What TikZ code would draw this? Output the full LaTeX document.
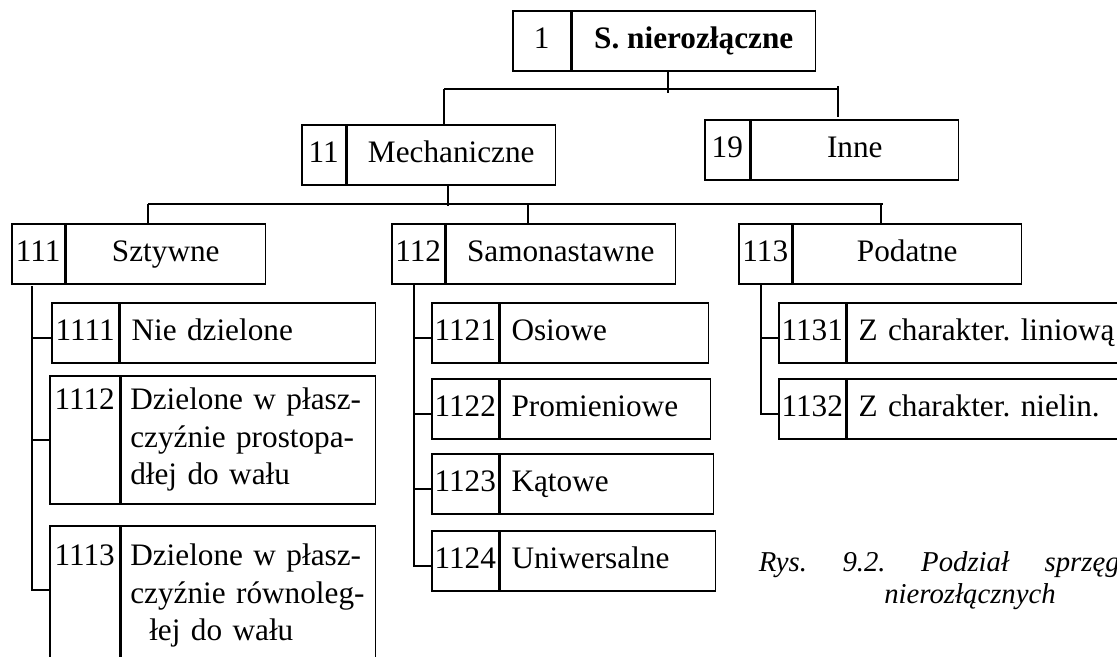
\documentclass[tikz,border=0pt]{standalone}
\usepackage{fontspec}
\setmainfont{Liberation Serif}
\usetikzlibrary{positioning}
\newcommand{\fullline}[1]{\makebox[\hsize][s]{#1}}
\frenchspacing

\begin{document}
\begin{tikzpicture}[
    x=0.4pt, y=-0.4pt, line width=0.6pt,
    every node/.style={font=\fontsize{12.5}{15}\selectfont},
    num/.style={draw, inner sep=0pt, minimum width=#1, minimum height=24pt,
                text height=8pt, text depth=1.6pt, anchor=north west},
    head/.style={draw, inner sep=0pt, minimum width=#1, minimum height=24pt,
                 text height=8pt, text depth=1.6pt},
    item/.style={draw, inner xsep=4.5pt, inner ysep=0pt, text width=#1, align=left,
                 minimum height=24pt, text height=8pt, text depth=1.6pt},
    numtop/.style n args={3}{draw, inner sep=0pt, minimum width=#1,
                 text height=#2, text depth=#3, anchor=north west},
    block/.style 2 args={draw, inner xsep=3.6pt, inner ysep=0pt, text width=#1,
                 minimum height=#2, align=left},
    captext/.style={font=\fontsize{11.5}{13}\selectfont\itshape, inner sep=0pt},
]
\useasboundingbox (0,0) rectangle (1117,656);
\clip (0,0) rectangle (1117,656);

% level 1
\node[num=23.2pt] (n1) at (512,10) {1};
\node[head=97.2pt, right=0pt of n1, font=\fontsize{12.5}{15}\selectfont\bfseries] (l1) {S. nierozłączne};

% level 2
\node[num=17.6pt] (n11) at (301,124) {11};
\node[head=83.2pt, right=0pt of n11] (l11) {Mechaniczne};
\node[num=18pt] (n19) at (704,119) {19};
\node[head=82.8pt, right=0pt of n19] (l19) {Inne};

\coordinate (b1L) at (444,89);
\coordinate (b1R) at (838,89);
\coordinate (s1) at (668,93);
\draw (l1.south -| s1) -- (s1);
\draw (b1L) -- (b1R);
\draw (b1L) -- (b1L |- l11.north);
\draw ([yshift=1.2pt]b1R) -- ([yshift=0.8pt]l19.north -| b1R);

% level 3
\node[num=21.2pt] (n111) at (11,223) {111};
\node[head=79.6pt, right=0pt of n111] (l111) {Sztywne};
\node[num=21.2pt] (n112) at (391,223) {112};
\node[head=91.6pt, right=0pt of n112] (l112) {Samonastawne};
\node[num=21.2pt] (n113) at (738,223) {113};
\node[head=91.2pt, right=0pt of n113] (l113) {Podatne};

\coordinate (s11) at (448,206);
\coordinate (b2L) at (148,204);
\coordinate (b2M) at (528,204);
\coordinate (b2T) at (881,204);
\coordinate (b2R) at (883,204);
\draw (l11.south -| s11) -- (s11);
\draw (b2L) -- (b2R);
\draw (b2L) -- (b2L |- l111.north);
\draw (b2M) -- (b2M |- l112.north);
\draw (b2T) -- (b2T |- l113.north);

% Sztywne
\node[num=26.8pt] (n1111) at (51,302) {1111};
\node[item=93pt, right=0pt of n1111] (l1111) {Nie dzielone};
\node[numtop={28pt}{13.5pt}{37.7pt}] (n1112) at (49,375) {1112};
\node[block={94.4pt}{51.2pt}, right=0pt of n1112] (l1112)
    {\fullline{Dzielone w płasz-}\\ \fullline{czyźnie prostopa-}\\ dłej do wału};
\node[numtop={28pt}{15.9pt}{40.1pt}] (n1113) at (49,525) {1113};
\node[block={94.4pt}{56pt}, right=0pt of n1113] (l1113)
    {\fullline{Dzielone w płasz-}\\ \fullline{czyźnie równoleg-}\\ \hspace*{7.6pt}łej do wału};

\coordinate (t111) at (32,286);
\draw (t111) |- ([yshift=-2pt]n1111.west)
      (t111) |- (n1112.west)
      (t111) |- ([yshift=-26pt]n1113.north west);

% Samonastawne
\node[num=26.8pt] (n1121) at (431,302) {1121};
\node[item=74.2pt, right=0pt of n1121] (l1121) {Osiowe};
\node[num=26.8pt] (n1122) at (431,378) {1122};
\node[item=75pt, right=0pt of n1122] (l1122) {Promieniowe};
\node[num=26.8pt] (n1123) at (431,453) {1123};
\node[item=76.2pt, right=0pt of n1123] (l1123) {Kątowe};
\node[num=26.8pt] (n1124) at (431,530) {1124};
\node[item=77pt, right=0pt of n1124] (l1124) {Uniwersalne};

\coordinate (t112) at (414,283);
\foreach \b in {1121,1122,1123,1124}
    \draw (t112) |- ([yshift=-2pt]n\b.west);

% Podatne
\node[num=26.8pt] (n1131) at (778,302) {1131};
\node[item=111pt, right=0pt of n1131] (l1131) {Z charakter. liniową};
\node[num=26.8pt] (n1132) at (778,378) {1132};
\node[item=111pt, right=0pt of n1132] (l1132) {Z charakter. nielin.};

\coordinate (t113) at (761,283);
\foreach \b in {1131,1132}
    \draw (t113) |- ([yshift=-2pt]n\b.west);

% caption
\node[captext, anchor=base west] (cap1) at (758,571)
    {\hbox to 144.4pt{Rys.\hfill 9.2.\hfill Podział\hfill sprzęg}};
\node[captext, anchor=base] (cap2) at (970,603) {nierozłącznych};
\end{tikzpicture}
\end{document}
